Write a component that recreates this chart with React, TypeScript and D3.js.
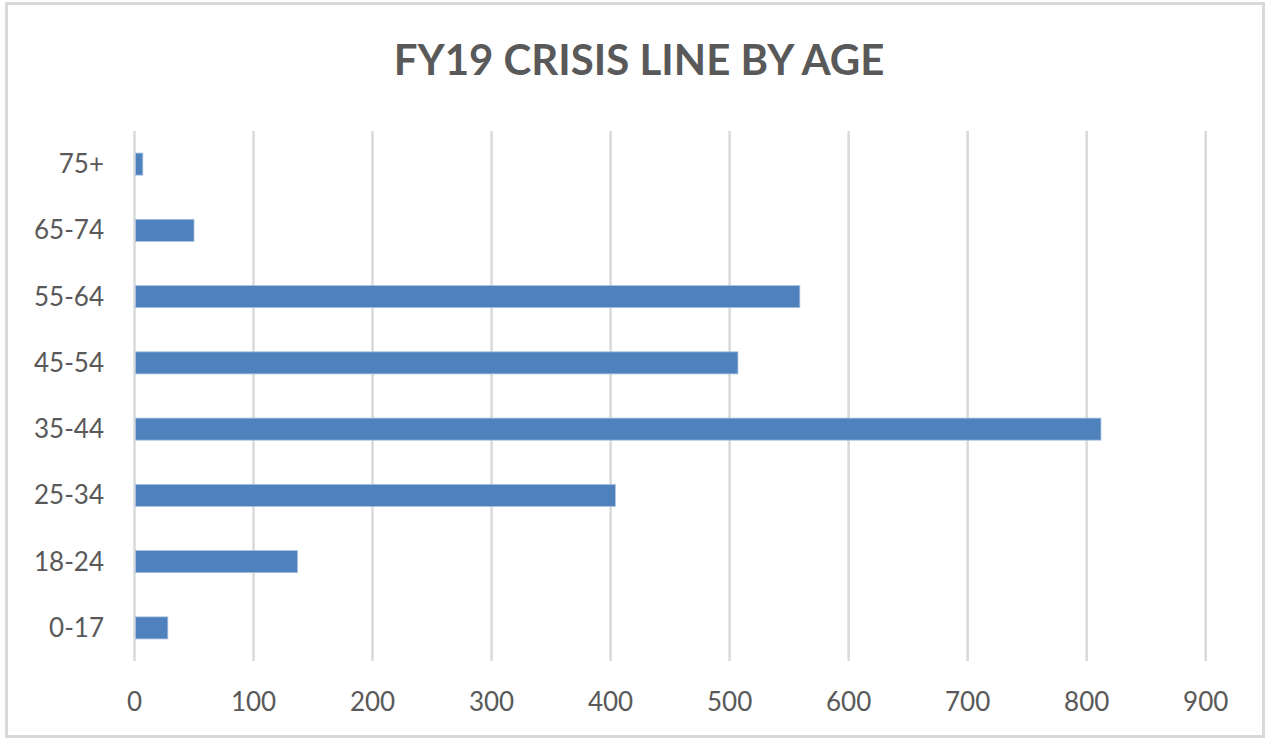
import React from "react";
import * as d3 from "d3";

const categories = ["0-17", "18-24", "25-34", "35-44", "45-54", "55-64", "65-74", "75+"];
const values = [28, 137, 404, 812, 507, 559, 50, 7];
const xTicks = [0, 100, 200, 300, 400, 500, 600, 700, 800, 900];
const title = "FY19 CRISIS LINE BY AGE";

const W = 1267;
const H = 740;
const plotLeft = 134.5;
const plotRight = 1205.7;
const plotTop = 131;
const plotBottom = 661;
const textColor = "#595959";
const gridColor = "#d9d9d9";
const barColor = "#4f81bd";
const font = "Lato, 'Open Sans', sans-serif";

export default function App() {
  const x = d3.scaleLinear().domain([0, 900]).range([plotLeft, plotRight]);
  const y = d3
    .scaleBand<string>()
    .domain([...categories].reverse())
    .range([plotTop, plotBottom])
    .paddingInner(0.667)
    .paddingOuter(0.333);

  return (
    <div style={{ position: "absolute", left: 0, top: 0 }}>
      <svg width={W} height={H} style={{ display: "block", background: "#fff" }}>
        <rect x={6.5} y={3.5} width={1257} height={733} fill="#fff" stroke={gridColor} strokeWidth={3} />
        <text
          x={639}
          y={75}
          textAnchor="middle"
          fontFamily={font}
          fontWeight={700}
          fontSize={42}
          fill={textColor}
        >
          {title}
        </text>
        {xTicks.map((t) => (
          <line
            key={"g" + t}
            x1={x(t)}
            x2={x(t)}
            y1={plotTop}
            y2={plotBottom}
            stroke={gridColor}
            strokeWidth={2.5}
          />
        ))}
        {categories.map((c, i) => (
          <rect
            key={"b" + c}
            x={x(0) + 1}
            y={y(c)}
            width={x(values[i]) - x(0) - 1}
            height={y.bandwidth()}
            fill={barColor}
            stroke="#a9c1e0"
            strokeWidth={0.8}
          />
        ))}
        {categories.map((c) => (
          <text
            key={"l" + c}
            x={104}
            y={(y(c) as number) + y.bandwidth() / 2}
            dy="0.35em"
            textAnchor="end"
            fontFamily={font}
            fontSize={26}
            fill={textColor}
          >
            {c}
          </text>
        ))}
        {xTicks.map((t) => (
          <text
            key={"t" + t}
            x={x(t)}
            y={702}
            dy="0.35em"
            textAnchor="middle"
            fontFamily={font}
            fontSize={26}
            fill={textColor}
          >
            {t}
          </text>
        ))}
      </svg>
    </div>
  );
}
